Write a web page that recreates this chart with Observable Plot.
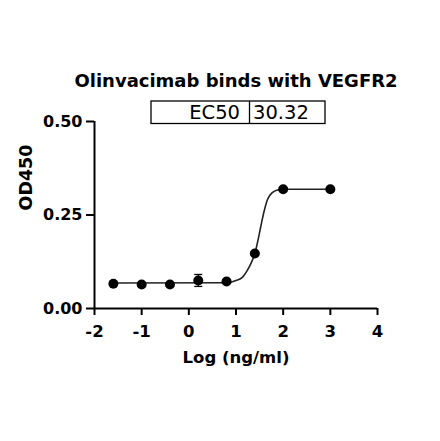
<!DOCTYPE html>
<html><head><meta charset="utf-8">
<script src="https://cdn.jsdelivr.net/npm/d3@7"></script>
<script src="https://cdn.jsdelivr.net/npm/@observablehq/plot@0.6"></script>
<style>html,body{margin:0;padding:0;background:#fff;}</style>
</head><body><div id="chart"></div>
<script>
// ---- data ----
const title = "Olinvacimab binds with VEGFR2";
const ec50Label = "EC50";
const ec50Value = "30.32";
const xLabel = "Log (ng/ml)";
const yLabel = "OD450";
const xTicks = [-2, -1, 0, 1, 2, 3, 4];
const yTicks = [0, 0.25, 0.5];
const logConc = [-1.6, -1, -0.4, 0.2, 0.8, 1.4, 2, 3];
const od450 = [0.066, 0.064, 0.064, 0.075, 0.072, 0.147, 0.319, 0.319];
const od450Err = [0.003, 0.002, 0.002, 0.016, 0.003, 0.004, 0.002, 0.002];
// fitted curve
const fitX = [-1.6, 0.8, 1.0, 1.14, 1.24, 1.33, 1.40, 1.47, 1.53, 1.60, 1.67, 1.77, 1.88, 2.0, 3.0];
const fitY = [0.068, 0.069, 0.075, 0.084, 0.102, 0.124, 0.147, 0.185, 0.222, 0.262, 0.292, 0.310, 0.317, 0.319, 0.319];

const points = logConc.map((x, i) => ({x, y: od450[i], e: od450Err[i]}));
const fit = fitX.map((x, i) => ({x, y: fitY[i]}));
const font = "DejaVu Sans, sans-serif";
const cap = 0.085;

const chart = Plot.plot({
  width: 440, height: 441,
  marginLeft: 94, marginRight: 63, marginTop: 121, marginBottom: 133,
  style: {fontFamily: font, background: "#fff", color: "#000", overflow: "visible"},
  x: {domain: [-2, 4]},
  y: {domain: [0, 0.5]},
  marks: [
    Plot.axisY({ticks: yTicks, tickFormat: d3.format(".2f"), tickSize: 8, tickPadding: 4, fontSize: 16, fontWeight: "bold", strokeWidth: 2, label: null}),
    Plot.axisX({ticks: xTicks, tickFormat: d => String(d), tickSize: 7, tickPadding: 9.5, fontSize: 16.5, fontWeight: "bold", strokeWidth: 2, label: null}),
    Plot.ruleX([-2], {strokeWidth: 2}),
    Plot.ruleY([0], {strokeWidth: 2}),
    Plot.line(fit, {x: "x", y: "y", curve: "monotone-x", stroke: "#222", strokeWidth: 1.6}),
    Plot.ruleX(points, {x: "x", y1: d => d.y - d.e, y2: d => d.y + d.e, stroke: "#000", strokeWidth: 1.3}),
    Plot.link(points, {x1: d => d.x - cap, x2: d => d.x + cap, y1: d => d.y + d.e, y2: d => d.y + d.e, stroke: "#000", strokeWidth: 1.3}),
    Plot.link(points, {x1: d => d.x - cap, x2: d => d.x + cap, y1: d => d.y - d.e, y2: d => d.y - d.e, stroke: "#000", strokeWidth: 1.3}),
    Plot.dot(points, {x: "x", y: "y", r: 5, fill: "#000"}),
    Plot.text([yLabel], {frameAnchor: "left", rotate: -90, dx: -68, dy: -4.5, fontSize: 17.5, fontWeight: "bold", lineAnchor: "middle", text: d => d}),
    Plot.text([xLabel], {frameAnchor: "bottom", dy: 49.5, fontSize: 16.5, fontWeight: "bold", lineAnchor: "middle", text: d => d}),
    Plot.text([title], {frameAnchor: "top", dy: -40, fontSize: 18, fontWeight: "bold", lineAnchor: "middle", text: d => d})
  ]
});

// EC50 results box
const svg = d3.select(chart);
const g = svg.append("g").attr("font-family", font).attr("font-size", 19.5);
g.append("rect").attr("x", 151).attr("y", 101).attr("width", 174).attr("height", 22.5)
  .attr("fill", "none").attr("stroke", "#000").attr("stroke-width", 1.3);
g.append("line").attr("x1", 249.5).attr("x2", 249.5).attr("y1", 101).attr("y2", 123.5)
  .attr("stroke", "#000").attr("stroke-width", 1.3);
g.append("text").attr("x", 240).attr("y", 112.3).attr("dy", "0.35em").attr("text-anchor", "end").text(ec50Label);
g.append("text").attr("x", 253).attr("y", 112.3).attr("dy", "0.35em").attr("text-anchor", "start").text(ec50Value);

document.getElementById("chart").appendChild(chart);
</script>
</body></html>
